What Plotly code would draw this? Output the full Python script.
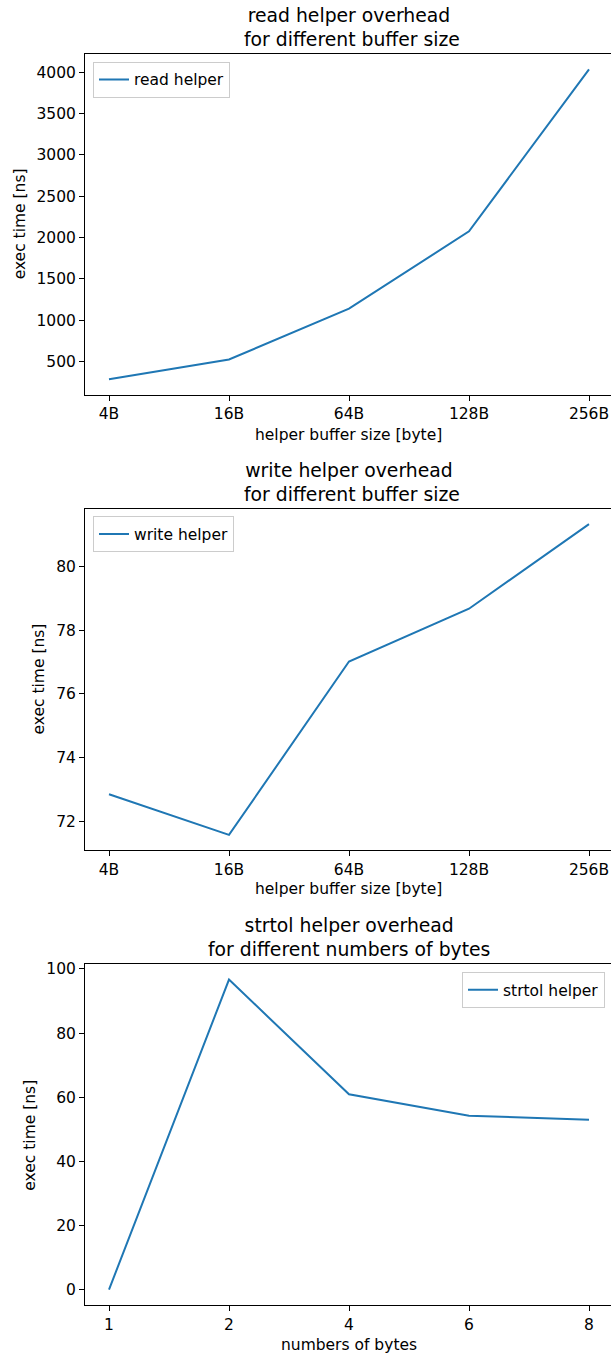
import plotly.graph_objects as go

# ---- data ----
buffer_sizes = ["4B", "16B", "64B", "128B", "256B"]
read_ns = [285, 525, 1140, 2075, 4035]
write_ns = [72.85, 71.57, 77.02, 78.68, 81.34]

byte_counts = ["1", "2", "4", "6", "8"]
strtol_ns = [0, 96.7, 60.9, 54.25, 53.0]

# ---- layout helpers (pixel geometry) ----
W, H = 611, 1354
FONT = "DejaVu Sans, Verdana, sans-serif"
BLUE = "#1f77b4"
TICK_SIZE = 15.5
TITLE_SIZE = 18.8


def py(px):
    """Convert a pixel row (from top) into paper y."""
    return 1 - px / H


def px_x(px):
    return px / W


AX_LEFT = 85
STEP = 120.0  # pixels per category
x_lo = -(109 - AX_LEFT) / STEP
x_hi = (W - AX_LEFT) / STEP + x_lo

panels = [
    # top, bottom, title center, x-title center, y-title x
    dict(top=50, bottom=392, title_y=23.5, xt_y=432, yt_x=20,
         yrange=[97.5, 4222], dtick=500,
         title="read helper overhead<br> for different buffer size",
         xtitle="helper buffer size [byte]",
         legend=dict(x=93, y=58, xanchor="left")),
    dict(top=506, bottom=849, title_y=480, xt_y=888, yt_x=39,
         yrange=[71.08, 81.83], dtick=2,
         title="write helper overhead<br> for different buffer size",
         xtitle="helper buffer size [byte]",
         legend=dict(x=93, y=514, xanchor="left")),
    dict(top=963, bottom=1305, title_y=936, xt_y=1345, yt_x=30,
         yrange=[-4.84, 101.5], dtick=20,
         title="strtol helper overhead<br>for different numbers of bytes",
         xtitle="numbers of bytes",
         legend=dict(x=605, y=971, xanchor="right")),
]

series = [
    (buffer_sizes, read_ns, "read helper"),
    (buffer_sizes, write_ns, "write helper"),
    (byte_counts, strtol_ns, "strtol helper"),
]

fig = go.Figure()
annotations = []
layout = {}

for i, (p, (xs, ys, name)) in enumerate(zip(panels, series), start=1):
    suffix = "" if i == 1 else str(i)
    leg_key = "legend" if i == 1 else f"legend{i}"
    fig.add_trace(go.Scatter(
        x=xs, y=ys, mode="lines", name=name,
        line=dict(color=BLUE, width=2),
        xaxis=f"x{suffix}", yaxis=f"y{suffix}",
        legend=leg_key, showlegend=True,
    ))

    layout[f"xaxis{suffix}"] = dict(
        type="category", domain=[px_x(AX_LEFT), 1.0], range=[x_lo, x_hi],
        anchor=f"y{suffix}", showline=True, linecolor="black", linewidth=1,
        mirror=True, ticks="outside", ticklen=5, tickwidth=1,
        tickcolor="black", showgrid=False, zeroline=False,
        tickfont=dict(family=FONT, size=TICK_SIZE, color="black"),
    )
    layout[f"yaxis{suffix}"] = dict(
        domain=[py(p["bottom"]), py(p["top"])], range=p["yrange"],
        anchor=f"x{suffix}", showline=True, linecolor="black", linewidth=1,
        mirror=False, ticks="outside", ticklen=5, tickwidth=1,
        tickcolor="black", showgrid=False, zeroline=False,
        tick0=0, dtick=p["dtick"],
        tickfont=dict(family=FONT, size=TICK_SIZE, color="black"),
    )
    lg = p["legend"]
    layout[leg_key] = dict(
        x=px_x(lg["x"]), y=py(lg["y"]), xanchor=lg["xanchor"], yanchor="top",
        xref="paper", yref="paper",
        bgcolor="rgba(255,255,255,0.8)", bordercolor="#cccccc", borderwidth=1,
        font=dict(family=FONT, size=TICK_SIZE, color="black"),
        itemwidth=30, tracegroupgap=0,
    )

    center_x = px_x((AX_LEFT + 612) / 2)
    annotations.append(dict(
        text=p["title"], x=center_x, y=py(p["title_y"]), xref="paper",
        yref="paper", xanchor="center", yanchor="middle", showarrow=False,
        font=dict(family=FONT, size=TITLE_SIZE, color="black"),
    ))
    annotations.append(dict(
        text=p["xtitle"], x=center_x, y=py(p["xt_y"]), xref="paper",
        yref="paper", xanchor="center", yanchor="middle", showarrow=False,
        font=dict(family=FONT, size=TICK_SIZE, color="black"),
    ))
    annotations.append(dict(
        text="exec time [ns]", x=px_x(p["yt_x"]),
        y=py((p["top"] + p["bottom"]) / 2), xref="paper", yref="paper",
        xanchor="center", yanchor="middle", textangle=-90, showarrow=False,
        font=dict(family=FONT, size=TICK_SIZE, color="black"),
    ))

fig.update_layout(
    width=W, height=H, margin=dict(l=0, r=0, t=0, b=0),
    paper_bgcolor="white", plot_bgcolor="white",
    annotations=annotations, **layout,
)

fig.write_html("out.html")
